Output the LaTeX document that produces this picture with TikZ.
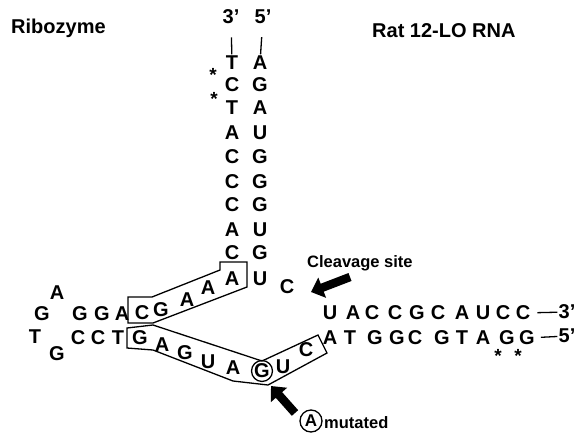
\documentclass[tikz,border=0pt]{standalone}
\usepackage{fontspec}
\setmainfont{Liberation Sans}
\usetikzlibrary{arrows.meta}
\begin{document}
\begin{tikzpicture}[x=1pt,y=-1pt,
  nt/.style={font=\bfseries\fontsize{20}{20}\selectfont, inner sep=0pt},
  ttl/.style={font=\bfseries\fontsize{20}{20}\selectfont, inner sep=0pt, anchor=base west},
  lbl/.style={font=\bfseries\fontsize{16.5}{16.5}\selectfont, inner sep=0pt, anchor=base west},
  ast/.style={font=\bfseries\fontsize{19}{19}\selectfont, inner sep=0pt},
  boxline/.style={line width=1.3pt, line join=miter},
  bigarrow/.style={line width=8.5pt, -{Triangle[length=12pt,width=21pt]}},
  bar/.style={line width=1.3pt}]
\useasboundingbox (0,0) rectangle (579,432);
\fill[white] (0,0) rectangle (579,432);

% titles
\node[ttl] (tr) at (11,33) {Ribozyme};
\node[ttl] (tl) at (372,37) {Rat 12-LO RNA};

% stem ends
\node[nt] (p3) at (231,17) {3’};
\node[nt] (p5) at (263,17) {5’};

% stem left (ribozyme) and right (RNA)
\foreach \n/\t/\y in {1/T/63,2/C/85,3/T/108,4/A/133,5/C/157,6/C/182,7/C/205,8/A/230,9/C/253,10/A/279}
  \node[nt] (l\n) at (232,\y) {\t};
\foreach \n/\t/\y in {1/A/63,2/G/85,3/A/108,4/U/133,5/G/157,6/G/182,7/G/205,8/U/230,9/G/253,10/U/279}
  \node[nt] (r\n) at (260,\y) {\t};

\draw[bar, shorten <=13pt, shorten >=1.5pt] (p3) -- (l1);
\draw[bar, shorten <=13pt, shorten >=1.5pt] (p5) -- (r1);

\node[ast] (s1) at (213,75) {*};
\node[ast] (s2) at (214,99) {*};

% loop
\node[nt] (la) at (57,293) {A};
\node[nt] (lg) at (42,314) {G};
\node[nt] (lt) at (35,337) {T};
\node[nt] (lg2) at (57,354) {G};

% upper strand of helix
\node[nt] (u1) at (80,314) {G};
\node[nt] (u2) at (102,314) {G};
\node[nt] (u3) at (122,314) {A};
\node[nt] (u4) at (142,313) {C};
\node[nt] (u5) at (161,310) {G};
\node[nt] (u6) at (187,300) {A};
\node[nt] (u7) at (208,288) {A};

% lower strand
\node[nt] (b1) at (78,338) {C};
\node[nt] (b2) at (98,338) {C};
\node[nt] (b3) at (118,338) {T};
\node[nt] (b4) at (140,338) {G};
\node[nt] (b5) at (162,345) {A};
\node[nt] (b6) at (185,353) {G};
\node[nt] (b7) at (208,362) {U};
\node[nt] (b8) at (233,368) {A};
\node[nt, circle, draw, line width=1.3pt, minimum size=20pt] (b9) at (262,371) {G};
\node[nt] (b10) at (283,367) {U};
\node[nt] (b11) at (306,350) {C};

% RNA bulge
\node[nt] (cc) at (287,287) {C};

% RNA 3' arm
\foreach \n/\t/\x in {1/U/330,2/A/353,3/C/372,4/C/395,5/G/417,6/C/438,7/A/462,8/U/483,9/C/503,10/C/523}
  \node[nt] (t\n) at (\x,313) {\t};
\node[nt] (q3) at (567,312) {3’};
\draw[bar, shorten <=7pt, shorten >=1pt] (t10) -- (q3);

% ribozyme 5' arm
\foreach \n/\t/\x in {1/A/330,2/T/350,3/G/375,4/G/397,5/C/415,6/G/442,7/T/462,8/A/483,9/G/507,10/G/527}
  \node[nt] (g\n) at (\x,338) {\t};
\node[nt] (q5) at (567,336) {5’};
\draw[bar, shorten <=6pt, shorten >=1pt] (g10) -- (q5);

\node[ast] (s3) at (498,356) {*};
\node[ast] (s4) at (518,356) {*};

% boxes
\draw[boxline] (128,297) -- (152,297) -- (220,270) -- (220,262) -- (247,262) -- (247,287) -- (153,323) -- (128,323) -- cycle;
\draw[boxline] (127,328) -- (153,325) -- (262,361) -- (318,335) -- (327,353) -- (268,385) -- (233,381) -- (153,350) -- (127,348) -- cycle;

% labels and arrows
\node[lbl] (cs) at (307,267) {Cleavage site};
\coordinate (cst) at (350,277);
\coordinate (csh) at (311,292);
\draw[bigarrow] (cst) -- (csh);

\node[font=\bfseries\fontsize{17}{17}\selectfont, inner sep=0pt, circle, draw, line width=1.3pt, minimum size=22pt] (ma) at (311,421) {A};
\node[lbl] (mt) at (324,428) {mutated};
\coordinate (mtt) at (295,413);
\coordinate (mth) at (271,386);
\draw[bigarrow] (mtt) -- (mth);
\end{tikzpicture}
\end{document}
